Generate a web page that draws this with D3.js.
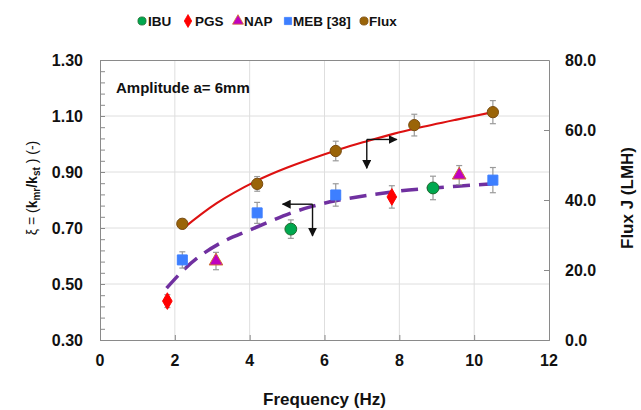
<!DOCTYPE html>
<html><head><meta charset="utf-8">
<script src="https://cdn.jsdelivr.net/npm/d3@7"></script>
<style>body{margin:0;background:#fff;}svg{display:block;font-family:Arial,"Liberation Sans",sans-serif;}</style>
</head><body><svg id="c" width="641" height="410"></svg>
<script>
// Data
const ibuX = [5.1, 8.9];
const ibuY = [0.696, 0.843];
const ibuErr = [0.033, 0.042];
const pgsX = [1.8, 7.8];
const pgsY = [0.439, 0.811];
const pgsErr = [0.023, 0.04];
const napX = [3.1, 9.6];
const napY = [0.582, 0.889];
const napErr = [0.031, 0.034];
const mebX = [2.2, 4.2, 6.3, 10.5];
const mebY = [0.586, 0.754, 0.818, 0.871];
const mebErr = [0.029, 0.0375, 0.04, 0.045];
const fluxX = [2.2, 4.2, 6.3, 8.4, 10.5];
const fluxY = [33.2, 44.6, 54.0, 61.4, 65.1];
const fluxErr = [1.4, 2.1, 2.8, 3.1, 3.3];
// trend lines
const xiTrendX = [1.78, 2.23, 2.67, 3.3, 4.01, 5.08, 5.69, 6.33, 7.75, 8.82, 10.5];
const xiTrendY = [0.485, 0.55, 0.60, 0.652, 0.693, 0.752, 0.778, 0.798, 0.828, 0.842, 0.858];
const fluxTrendX = [2.2, 3.12, 4.19, 4.99, 6.41, 7.13, 7.84, 8.46, 9.5, 10.5];
const fluxTrendY = [31.7, 39.1, 45.5, 49.2, 54.5, 56.8, 58.9, 60.5, 62.9, 65.1];
const xTicks = [0, 2, 4, 6, 8, 10, 12];
const yLeftTicks = [0.30, 0.50, 0.70, 0.90, 1.10, 1.30];
const yRightTicks = [0, 20, 40, 60, 80];
const legendNames = ["IBU", "PGS", "NAP", "MEB [38]", "Flux"];

const svg = d3.select("#c");
const L = 100, R = 549, T = 60, B = 340;
const x = d3.scaleLinear().domain([0, 12]).range([L, R]);
const yL = d3.scaleLinear().domain([0.3, 1.3]).range([B, T]);
const yR = d3.scaleLinear().domain([0, 80]).range([B, T]);

// grid
const g = svg.append("g");
g.selectAll(".gx").data(xTicks.slice(1, -1)).join("line")
  .attr("x1", d => x(d)).attr("x2", d => x(d)).attr("y1", T).attr("y2", B)
  .attr("stroke", "#dedede").attr("stroke-width", 1);
g.selectAll(".gy").data(yLeftTicks.slice(1, -1)).join("line")
  .attr("y1", d => yL(d)).attr("y2", d => yL(d)).attr("x1", L).attr("x2", R)
  .attr("stroke", "#dedede").attr("stroke-width", 1);

// axes
const axisColor = "#8a8a8a";
const minor = d3.range(0.30, 1.3001, 0.04);
const axL = d3.axisLeft(yL).tickValues(minor).tickSize(-5).tickFormat("");
svg.append("g").attr("transform", `translate(${L},0)`).call(axL)
  .call(s => { s.selectAll("path,line").attr("stroke", axisColor); });
const axB = d3.axisBottom(x).tickValues(xTicks).tickSize(-5).tickFormat("");
svg.append("g").attr("transform", `translate(0,${B})`).call(axB)
  .call(s => { s.selectAll("path,line").attr("stroke", axisColor); });
const axR = d3.axisRight(yR).tickValues(yRightTicks).tickSize(-5).tickFormat("");
svg.append("g").attr("transform", `translate(${R},0)`).call(axR)
  .call(s => { s.selectAll("path,line").attr("stroke", axisColor); });
svg.append("line").attr("x1", L).attr("x2", R).attr("y1", T + 0.5).attr("y2", T + 0.5).attr("stroke", axisColor);

// tick labels
const lab = { "font-weight": "bold", "font-size": "16px", fill: "#111" };
function sty(s, o) { for (const k in o) s.attr(k, o[k]); return s; }
sty(svg.append("g").selectAll("text").data(yLeftTicks).join("text")
  .attr("x", 83).attr("y", d => yL(d) + 6).attr("text-anchor", "end").text(d => d.toFixed(2)), lab);
sty(svg.append("g").selectAll("text").data(yRightTicks).join("text")
  .attr("x", 565).attr("y", d => yR(d) + 6).attr("text-anchor", "start").text(d => d.toFixed(1)), lab);
sty(svg.append("g").selectAll("text").data(xTicks).join("text")
  .attr("x", d => x(d)).attr("y", 366).attr("text-anchor", "middle").text(d => d), lab);

// axis titles
svg.append("text").attr("x", (L + R) / 2).attr("y", 405).attr("text-anchor", "middle")
  .attr("font-weight", "bold").attr("font-size", "17px").attr("fill", "#111").text("Frequency (Hz)");
svg.append("text").attr("transform", "translate(633,198) rotate(-90)").attr("text-anchor", "middle")
  .attr("font-weight", "bold").attr("font-size", "17px").attr("fill", "#111").text("Flux J (LMH)");
const yt = svg.append("text").attr("transform", "translate(37,188) rotate(-90)").attr("text-anchor", "middle")
  .attr("font-size", "14px").attr("fill", "#111");
yt.append("tspan").text("ξ = (");
yt.append("tspan").attr("font-weight", "bold").text("k");
yt.append("tspan").attr("font-weight", "bold").attr("font-size", "10px").attr("dy", 3).text("mr");
yt.append("tspan").attr("font-weight", "bold").attr("dy", -3).text("/k");
yt.append("tspan").attr("font-weight", "bold").attr("font-size", "10px").attr("dy", 3).text("st");
yt.append("tspan").attr("dy", -3).text("  ) (-)");

// annotation text
svg.append("text").attr("x", 116).attr("y", 93).attr("font-weight", "bold").attr("font-size", "15px")
  .attr("fill", "#111").text("Amplitude a= 6mm");

// trend lines
svg.append("path").datum(d3.zip(xiTrendX, xiTrendY))
  .attr("d", d3.line().x(d => x(d[0])).y(d => yL(d[1])).curve(d3.curveCatmullRom))
  .attr("fill", "none").attr("stroke", "#7030a0").attr("stroke-width", 3.5).attr("stroke-dasharray", "17,9");
svg.append("path").datum(d3.zip(fluxTrendX, fluxTrendY))
  .attr("d", d3.line().x(d => x(d[0])).y(d => yR(d[1])).curve(d3.curveCatmullRom))
  .attr("fill", "none").attr("stroke", "#dd1111").attr("stroke-width", 2.2);

// arrows
const defs = svg.append("defs");
defs.append("marker").attr("id", "ah").attr("viewBox", "0 0 10 10").attr("refX", 9).attr("refY", 5)
  .attr("markerWidth", 9).attr("markerHeight", 9).attr("markerUnits", "userSpaceOnUse").attr("orient", "auto")
  .append("path").attr("d", "M0,0 L10,5 L0,10 z").attr("fill", "#111");
function arrow(x1, y1, x2, y2) {
  svg.append("line").attr("x1", x1).attr("y1", y1).attr("x2", x2).attr("y2", y2)
    .attr("stroke", "#111").attr("stroke-width", 1.4).attr("marker-end", "url(#ah)");
}
arrow(x(7.13), yR(57.3), x(7.93), yR(57.3));
arrow(x(7.13), yR(57.3), x(7.13), yR(49.1));
arrow(x(5.68), yL(0.785), x(4.88), yL(0.785));
arrow(x(5.68), yL(0.785), x(5.68), yL(0.672));

// error bars
function errbars(xs, ys, es, ys2) {
  const gg = svg.append("g").attr("stroke", "#9a9a9a").attr("stroke-width", 1.2);
  xs.forEach((xv, i) => {
    const cx = x(xv), y1 = ys2(ys[i] - es[i]), y2 = ys2(ys[i] + es[i]);
    gg.append("line").attr("x1", cx).attr("x2", cx).attr("y1", y1).attr("y2", y2);
    gg.append("line").attr("x1", cx - 3).attr("x2", cx + 3).attr("y1", y1).attr("y2", y1);
    gg.append("line").attr("x1", cx - 3).attr("x2", cx + 3).attr("y1", y2).attr("y2", y2);
  });
}
errbars(fluxX, fluxY, fluxErr, yR);
errbars(mebX, mebY, mebErr, yL);
errbars(napX, napY, napErr, yL);
errbars(ibuX, ibuY, ibuErr, yL);
errbars(pgsX, pgsY, pgsErr, yL);

// markers
const styles = {
  IBU: { type: d3.symbolCircle, size: 110, fill: "#00a84f", stroke: "#1f6b2e" },
  PGS: { type: d3.symbolDiamond, size: 80, fill: "#ff0000", stroke: "#ff0000" },
  NAP: { type: d3.symbolTriangle, size: 80, fill: "#c000c0", stroke: "#d07030" },
  MEB: { type: d3.symbolSquare, size: 100, fill: "#3d7fff", stroke: "#3d7fff" },
  Flux: { type: d3.symbolCircle, size: 100, fill: "#9a6408", stroke: "#7a4c10" }
};
function marks(xs, ys, ysc, st) {
  svg.append("g").selectAll("path").data(d3.zip(xs, ys)).join("path")
    .attr("transform", d => `translate(${x(d[0])},${ysc(d[1])})`)
    .attr("d", d3.symbol().type(st.type).size(st.size))
    .attr("fill", st.fill).attr("stroke", st.stroke).attr("stroke-width", 1);
}
marks(fluxX, fluxY, yR, styles.Flux);
marks(mebX, mebY, yL, styles.MEB);
marks(napX, napY, yL, styles.NAP);
marks(ibuX, ibuY, yL, styles.IBU);
marks(pgsX, pgsY, yL, styles.PGS);

// legend
const legKeys = ["IBU", "PGS", "NAP", "MEB", "Flux"];
const legX = [142, 188, 238, 288, 364];
const legTX = [148, 195, 244, 293, 369];
legKeys.forEach((k, i) => {
  const st = styles[k];
  svg.append("path").attr("transform", `translate(${legX[i]},21)`)
    .attr("d", d3.symbol().type(st.type).size(k === "PGS" ? 48 : 52))
    .attr("fill", st.fill).attr("stroke", st.stroke).attr("stroke-width", 0.8);
  svg.append("text").attr("x", legTX[i]).attr("y", 26).attr("font-weight", "bold")
    .attr("font-size", "13.5px").attr("fill", "#111").text(legendNames[i]);
});
</script></body></html>
